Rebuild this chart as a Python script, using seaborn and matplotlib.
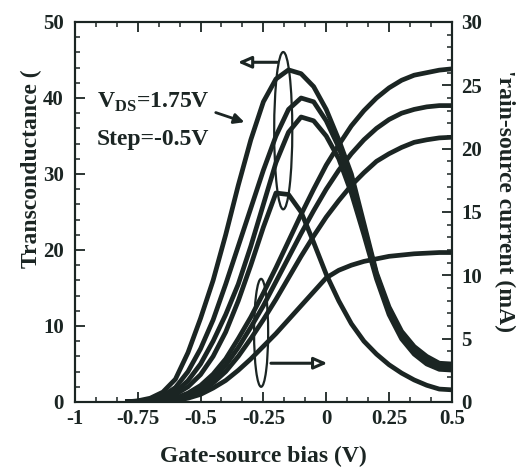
# Transconductance and drain current vs gate-source bias (V_DS = 1.75 V, step -0.5 V)

import matplotlib
matplotlib.use('Agg')
import matplotlib.pyplot as plt
from matplotlib.patches import Ellipse
from matplotlib.ticker import MultipleLocator, FixedLocator, FixedFormatter
import seaborn as sns

# gate-source bias (V)
vgs = [-0.8, -0.75, -0.7, -0.65, -0.6, -0.55, -0.5, -0.45, -0.4, -0.35, -0.3, -0.25,
       -0.2, -0.15, -0.1, -0.05, 0.0, 0.05, 0.1, 0.15, 0.2, 0.25, 0.3, 0.35, 0.4, 0.45, 0.5]

# transconductance, left axis
gm_175 = [0.0, 0.15, 0.5, 1.3, 3.0, 6.5, 11.0, 16.0, 22.0, 28.5, 34.5, 39.5, 42.5, 43.7,
          43.2, 41.5, 38.5, 34.5, 30.0, 23.5, 17.0, 12.5, 9.3, 7.3, 6.0, 5.1, 5.0]
gm_125 = [0.0, 0.1, 0.3, 0.8, 1.9, 4.0, 7.0, 10.8, 15.5, 20.5, 25.5, 30.5, 35.0, 38.5,
          40.0, 39.5, 37.0, 33.5, 29.0, 23.0, 16.8, 12.0, 8.8, 6.8, 5.5, 4.7, 4.6]
gm_075 = [0.0, 0.05, 0.2, 0.5, 1.3, 2.8, 5.0, 8.0, 11.5, 15.5, 20.5, 26.0, 31.5, 35.5,
          37.5, 37.0, 35.0, 32.0, 27.5, 22.0, 16.2, 11.5, 8.3, 6.3, 5.0, 4.3, 4.2]
gm_025 = [0.0, 0.05, 0.15, 0.4, 1.0, 2.0, 3.6, 6.0, 9.2, 13.3, 18.0, 23.0, 27.5, 27.3,
          25.0, 21.0, 16.8, 13.3, 10.3, 8.0, 6.3, 4.9, 3.8, 2.9, 2.2, 1.7, 1.6]

# drain-source current (mA), right axis
ids_175 = [0.0, 0.0, 0.02, 0.1, 0.3, 0.7, 1.3, 2.2, 3.4, 5.0, 6.7, 8.6, 10.6, 12.7,
           14.8, 16.8, 18.7, 20.3, 21.8, 23.0, 24.0, 24.8, 25.4, 25.8, 26.0, 26.2, 26.3]
ids_125 = [0.0, 0.0, 0.01, 0.05, 0.2, 0.5, 1.0, 1.8, 2.9, 4.3, 5.9, 7.6, 9.5, 11.4,
           13.3, 15.1, 16.8, 18.3, 19.6, 20.7, 21.6, 22.3, 22.8, 23.1, 23.3, 23.4, 23.4]
ids_075 = [0.0, 0.0, 0.0, 0.03, 0.15, 0.4, 0.8, 1.5, 2.4, 3.6, 5.0, 6.5, 8.1, 9.8,
           11.5, 13.1, 14.6, 15.9, 17.1, 18.1, 19.0, 19.6, 20.1, 20.5, 20.7, 20.85, 20.9]
ids_025 = [0.0, 0.0, 0.0, 0.02, 0.1, 0.3, 0.6, 1.1, 1.7, 2.5, 3.4, 4.4, 5.4, 6.5,
           7.6, 8.7, 9.8, 10.4, 10.8, 11.1, 11.3, 11.5, 11.6, 11.7, 11.75, 11.8, 11.8]

xticks = [-1, -0.75, -0.5, -0.25, 0, 0.25, 0.5]
xtick_labels = ['-1', '-0.75', '-0.5', '-0.25', '0', '0.25', '0.5']

ink = '#1b2523'

sns.set_style('ticks')
plt.rcParams['font.family'] = ['Liberation Serif', 'DejaVu Serif']
plt.rcParams['font.weight'] = 'bold'
plt.rcParams['axes.unicode_minus'] = False
plt.rcParams['mathtext.fontset'] = 'custom'
plt.rcParams['mathtext.rm'] = 'Liberation Serif:bold'
plt.rcParams['mathtext.bf'] = 'Liberation Serif:bold'

fig = plt.figure(figsize=(5.2, 4.7), dpi=100)
ax = fig.add_axes([0.144, 0.1447, 0.725, 0.8085])
ax2 = ax.twinx()

for gm in [gm_175, gm_125, gm_075, gm_025]:
    sns.lineplot(x=vgs, y=gm, ax=ax, color=ink, lw=3.4, solid_capstyle='butt')
for ids in [ids_175, ids_125, ids_075, ids_025]:
    sns.lineplot(x=vgs, y=ids, ax=ax2, color=ink, lw=3.4, solid_capstyle='butt')

ax.set_xlim(-1, 0.5)
ax.set_ylim(0, 50)
ax2.set_ylim(0, 30)

ax.xaxis.set_major_locator(FixedLocator(xticks))
ax.xaxis.set_major_formatter(FixedFormatter(xtick_labels))
ax.xaxis.set_minor_locator(MultipleLocator(0.25 / 3))
ax.yaxis.set_major_locator(MultipleLocator(10))
ax.yaxis.set_minor_locator(MultipleLocator(2))
ax2.yaxis.set_major_locator(MultipleLocator(5))
ax2.yaxis.set_minor_locator(MultipleLocator(1))

ax.tick_params(axis='x', which='both', direction='in', top=True, bottom=True, pad=5)
ax.tick_params(axis='y', which='both', direction='in', left=True, right=False, pad=8)
ax2.tick_params(axis='y', which='both', direction='in', right=True, pad=7)
for a in (ax, ax2):
    a.tick_params(which='major', length=7, width=1.3, labelsize=15, color=ink, labelcolor=ink)
    a.tick_params(which='minor', length=3.5, width=1.1, color=ink)
    for s in a.spines.values():
        s.set_linewidth(1.5)
        s.set_color(ink)
ax2.spines['right'].set_visible(True)
ax2.spines['top'].set_visible(True)

ax.set_xlabel('Gate-source bias (V)', fontsize=17, fontweight='bold', color=ink, labelpad=12)
fig.text(31 / 520, 1 - 169 / 470, 'Transconductance (', rotation=90, ha='center', va='center',
         fontsize=17, fontweight='bold', color=ink)
fig.text(505 / 520, 1 - 201 / 470, "'rain-source current (mA)", rotation=270, ha='center',
         va='center', fontsize=17, fontweight='bold', color=ink)

# annotations (in left-axis data coords)
ax.text(-0.912, 38.7, r'V$_{\mathbf{DS}}$=1.75V', fontsize=17, fontweight='bold', color=ink,
        va='baseline')
ax.text(-0.912, 33.8, 'Step=-0.5V', fontsize=17, fontweight='bold', color=ink, va='baseline')
ax.annotate('', xy=(-0.315, 36.7), xytext=(-0.45, 38.2),
            arrowprops=dict(arrowstyle='-|>,head_length=0.6,head_width=0.3', color=ink, lw=2))

ax.add_patch(Ellipse((-0.171, 35.7), 0.072, 20.7, fill=False, ec=ink, lw=1.6))
ax.annotate('', xy=(-0.363, 44.7), xytext=(-0.183, 44.7),
            arrowprops=dict(arrowstyle='-|>,head_length=0.8,head_width=0.35', fc='white',
                            ec=ink, lw=2.2))
ax.add_patch(Ellipse((-0.259, 9.1), 0.056, 14.2, fill=False, ec=ink, lw=1.6))
ax.annotate('', xy=(0.016, 5.1), xytext=(-0.231, 5.1),
            arrowprops=dict(arrowstyle='-|>,head_length=0.8,head_width=0.35', fc='white',
                            ec=ink, lw=2.2))

fig.savefig('out.png', dpi=100)
